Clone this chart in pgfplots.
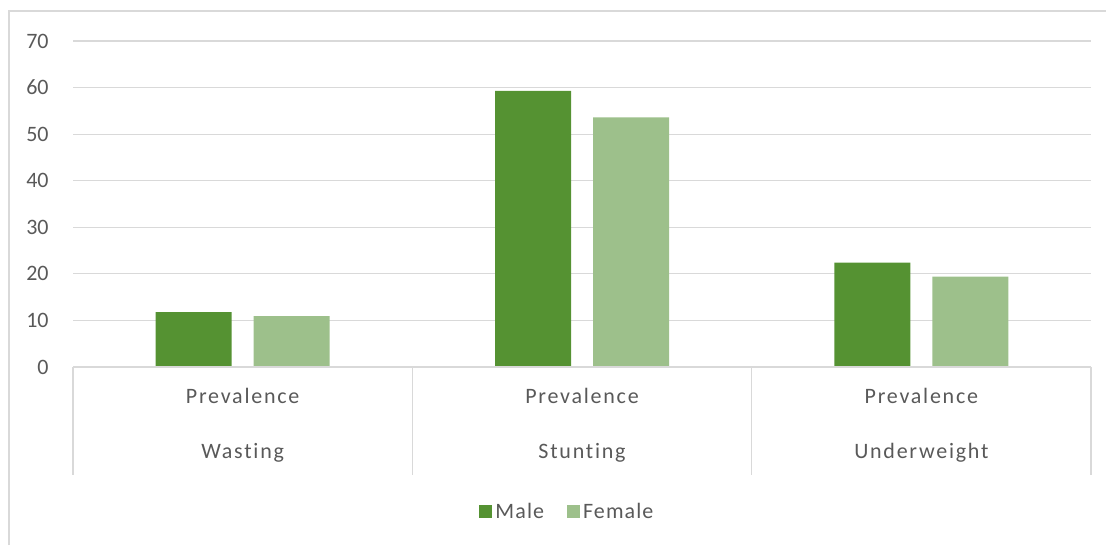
\documentclass[border=0pt]{standalone}
\usepackage{fontspec}
\setmainfont{Carlito}
\usepackage{pgfplots}
\pgfplotsset{compat=1.18}
\definecolor{male}{HTML}{559232}
\definecolor{female}{HTML}{9DC08B}
\definecolor{gridc}{HTML}{D9D9D9}
\definecolor{txt}{HTML}{595959}
\pgfplotsset{sqlegend/.style={legend image code/.code={\fill[#1] (0pt,-3.25pt) rectangle (6.5pt,3.25pt);}}}
\newcommand{\catfont}{\fontsize{11}{13}\selectfont\addfontfeature{LetterSpace=8,Ligatures=NoCommon}}
\newcommand{\legfont}{\fontsize{11}{13}\selectfont\addfontfeature{LetterSpace=5,Ligatures=NoCommon}}
\begin{document}
\begin{tikzpicture}
\useasboundingbox (0,0) rectangle (553pt,272.5pt);
\draw[gridc, line width=0.6pt] (4.5pt,0) -- (4.5pt,267pt) -- (553pt,267pt);
\begin{axis}[
 at={(36.5pt,89pt)}, anchor=south west,
 scale only axis, width=509pt, height=163pt,
 xmin=-0.5, xmax=2.5, ymin=0, ymax=70,
 ytick={0,10,...,70},
 xtick=\empty,
 axis line style={draw=none},
 ymajorgrids, grid style={gridc, line width=0.6pt},
 major tick length=0pt,
 yticklabel style={font=\fontsize{11}{13}\selectfont, text=txt, inner sep=0pt, xshift=-12pt},
 /pgf/number format/assume math mode=true,
 ybar, bar width=38pt,
 clip=false,
 legend style={at={(0.4862,-0.4448)}, anchor=center, draw=none, fill=none,
   legend columns=2, /tikz/every even column/.append style={column sep=10pt},
   font=\legfont, text=txt, nodes={inner sep=1.5pt}},
]
\addplot[fill=male, draw=none, bar shift=-24.5pt, sqlegend=male] coordinates {(0,11.8) (1,59.3) (2,22.4)};
\addplot[fill=female, draw=none, bar shift=24.5pt, sqlegend=female] coordinates {(0,10.9) (1,53.6) (2,19.4)};
\legend{Male,Female}
\draw[gridc, line width=0.6pt] (axis cs:-0.5,0) -- (axis cs:2.5,0);
\pgfplotsinvokeforeach{-0.5,0.5,1.5,2.5}{\draw[gridc, line width=0.6pt] (axis cs:#1,0) -- ([yshift=-54pt]axis cs:#1,0);}
\node[anchor=base, font=\catfont, text=txt] at ([yshift=-18.5pt]axis cs:0,0) {Prevalence};
\node[anchor=base, font=\catfont, text=txt] at ([yshift=-18.5pt]axis cs:1,0) {Prevalence};
\node[anchor=base, font=\catfont, text=txt] at ([yshift=-18.5pt]axis cs:2,0) {Prevalence};
\node[anchor=base, font=\catfont, text=txt] at ([yshift=-45.5pt]axis cs:0,0) {Wasting};
\node[anchor=base, font=\catfont, text=txt] at ([yshift=-45.5pt]axis cs:1,0) {Stunting};
\node[anchor=base, font=\catfont, text=txt] at ([yshift=-45.5pt]axis cs:2,0) {Underweight};
\end{axis}
\end{tikzpicture}
\end{document}
